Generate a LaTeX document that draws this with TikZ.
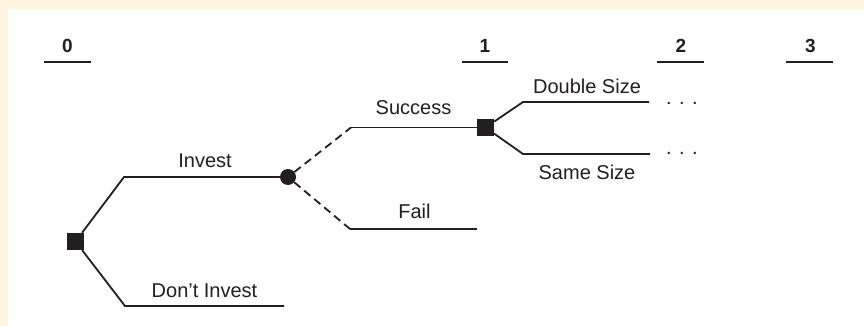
\documentclass[tikz,border=0pt]{standalone}
\usepackage{fontspec}
\setmainfont{Liberation Sans}
\definecolor{cream}{HTML}{FDF5E0}
\definecolor{ink}{HTML}{231F20}
\begin{document}
\begin{tikzpicture}[x=1pt,y=-1pt,
  branch/.style={draw=ink,line width=1.8pt},
  chance/.style={branch,dash pattern=on 8pt off 5pt},
  decbox/.style={rectangle,fill=ink,minimum size=17pt,inner sep=0pt},
  chancenode/.style={circle,fill=ink,minimum size=16pt,inner sep=0pt},
  lbl/.style={font=\fontsize{20}{24}\selectfont,text=ink,anchor=base,inner sep=0pt},
  hdr/.style={font=\fontsize{19}{23}\selectfont\bfseries,text=ink,anchor=base,inner sep=0pt},
  dotlbl/.style={font=\fontsize{20}{24}\selectfont,text=ink,anchor=base west,inner sep=0pt}]
\useasboundingbox (0,0) rectangle (864,326);
\fill[cream] (0,0) rectangle (864,326);
\fill[white] (8,9) rectangle (864,326);
% period headers
\foreach \n/\x/\a/\b in {0/67.5/44/91,1/485/462/508,2/681/657/704,3/810.5/786/833}{
  \node[hdr] (h\n) at (\x,53) {\n};
  \coordinate (ha\n) at (\a,62);
  \coordinate (hb\n) at (\b,62);
  \draw[branch] (ha\n) -- (hb\n);
}
% nodes
\node[decbox] (r) at (75.5,241.5) {};
\node[chancenode] (c) at (288,177) {};
\node[decbox] (s1) at (485.5,127.5) {};
\coordinate (i1) at (124,177);
\coordinate (d1) at (125,306);
\coordinate (d2) at (284,306);
\coordinate (s0) at (351,127.5);
\coordinate (f0) at (350,229);
\coordinate (f1) at (477,229);
\coordinate (u1) at (523,102);
\coordinate (u2) at (649,102);
\coordinate (w1) at (523,154);
\coordinate (w2) at (650,154);
% connectors
\draw[branch] (r) -- (i1) -- (c);
\draw[branch] (r) -- (d1) -- (d2);
\draw[chance] (c) -- (s0);
\draw[branch] (s0) -- (s1);
\draw[chance] (c) -- (f0);
\draw[branch] (f0) -- (f1);
\draw[branch] (s1) -- (u1) -- (u2);
\draw[branch] (s1) -- (w1) -- (w2);
% labels
\node[lbl] (tinv) at (205,167) {Invest};
\node[lbl] (tdont) at (204.5,297) {Don’t Invest};
\node[lbl] (tsucc) at (413.5,115) {Success};
\node[lbl] (tfail) at (414.5,218) {Fail};
\node[lbl] (tdbl) at (587,94) {Double Size};
\node[lbl] (tsame) at (587,179) {Same Size};
\node[dotlbl] (dots1) at (666,104.5) {. . .};
\node[dotlbl] (dots2) at (666,154.5) {. . .};
\end{tikzpicture}
\end{document}
